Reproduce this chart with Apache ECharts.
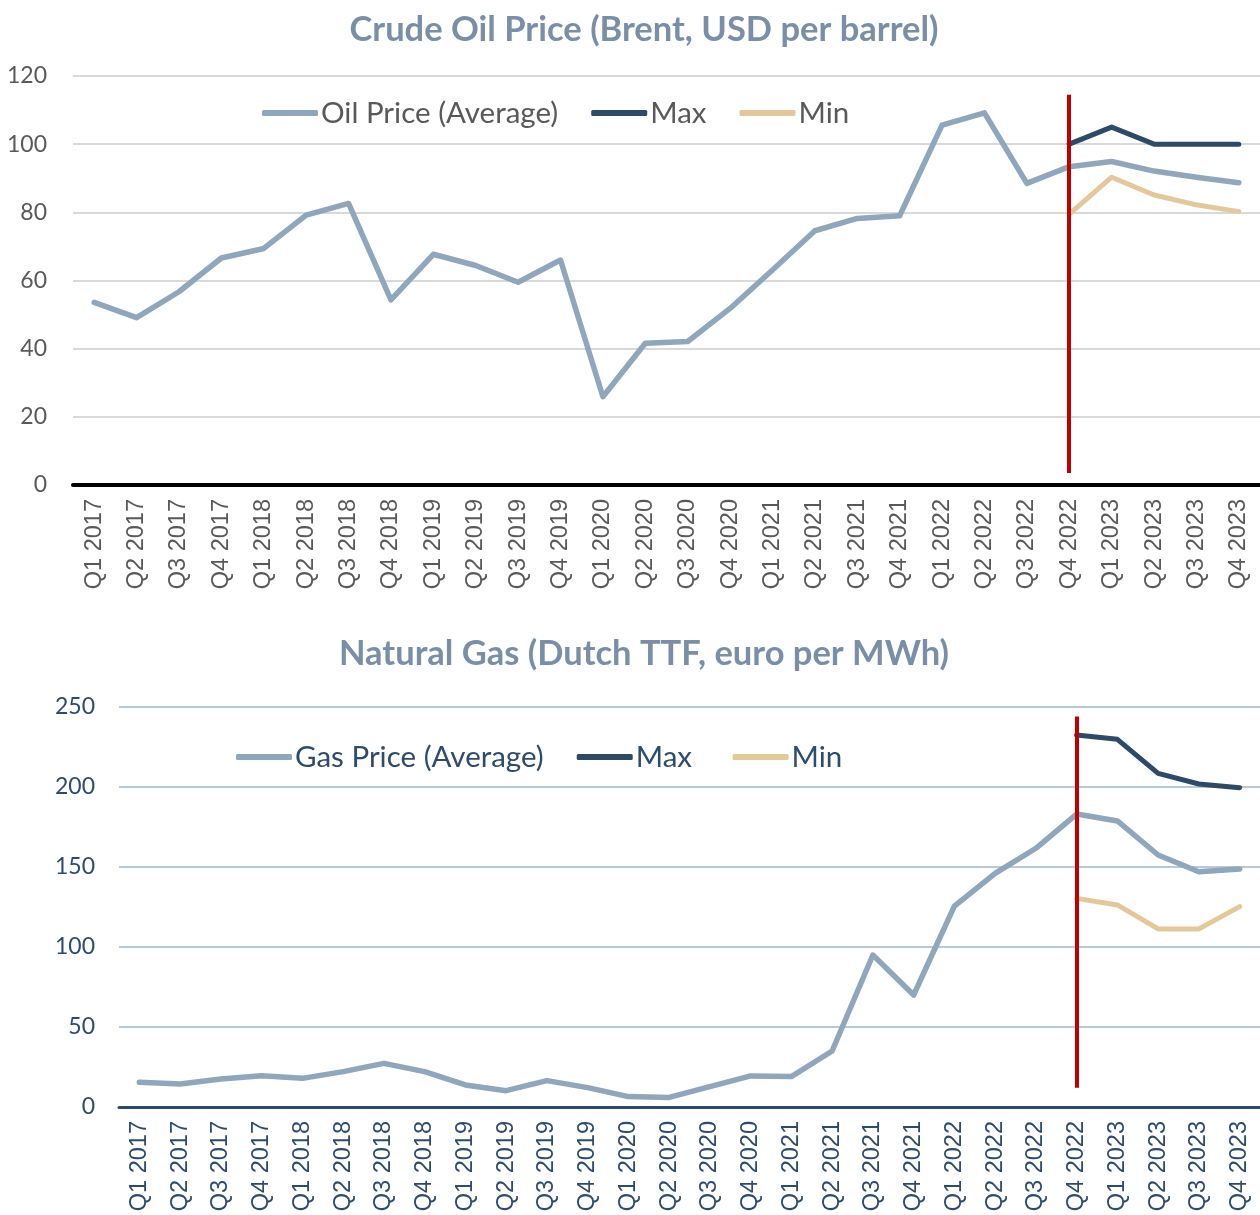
<!DOCTYPE html>
<html>
<head>
<meta charset="utf-8">
<script src="https://cdn.jsdelivr.net/npm/echarts@6/dist/echarts.min.js"></script>
<style>
html,body{margin:0;padding:0;background:#fff;}
#chart{width:1260px;height:1215px;}
</style>
</head>
<body>
<div id="chart"></div>
<script>
const quarters = ['Q1 2017','Q2 2017','Q3 2017','Q4 2017','Q1 2018','Q2 2018','Q3 2018','Q4 2018',
  'Q1 2019','Q2 2019','Q3 2019','Q4 2019','Q1 2020','Q2 2020','Q3 2020','Q4 2020',
  'Q1 2021','Q2 2021','Q3 2021','Q4 2021','Q1 2022','Q2 2022','Q3 2022','Q4 2022',
  'Q1 2023','Q2 2023','Q3 2023','Q4 2023'];

const oilAvg = [53.6,49.1,56.7,66.6,69.4,79.2,82.6,54.3,67.7,64.4,59.5,66.0,25.9,41.6,42.1,51.8,
  63.1,74.6,78.2,79.0,105.6,109.2,88.5,93.4,94.9,92.1,90.3,88.7];
const oilMax = [null,null,null,null,null,null,null,null,null,null,null,null,null,null,null,null,
  null,null,null,null,null,null,null,100,105,100,100,100];
const oilMin = [null,null,null,null,null,null,null,null,null,null,null,null,null,null,null,null,
  null,null,null,null,null,null,null,79.5,90.3,85.1,82.2,80.2];

const gasAvg = [15.4,14.4,17.5,19.6,17.9,22.1,27.3,22.1,13.8,10.2,16.5,12.1,6.5,6.0,12.7,19.4,
  19.0,35.0,95.0,70.0,125.6,146.0,161.7,183.1,178.8,157.5,147.0,148.8];
const gasMax = [null,null,null,null,null,null,null,null,null,null,null,null,null,null,null,null,
  null,null,null,null,null,null,null,232.5,229.8,208.5,201.9,199.6];
const gasMin = [null,null,null,null,null,null,null,null,null,null,null,null,null,null,null,null,
  null,null,null,null,null,null,null,130.4,126.3,111.3,111.3,125.2];

const oilTicks = {min:0, max:120, interval:20};
const gasTicks = {min:0, max:250, interval:50};

const forecastStart = 'Q4 2022';
const oilMarkerRange = [3.5, 114.5];
const gasMarkerRange = [12, 244];

const C_AVG = '#90a6bb', C_MAX = '#2e4a66', C_MIN = '#e3c89b', C_RED = '#c00000';
const C_TITLE = '#7a8fa5', C_GRAY = '#595959', C_NAVY = '#2f4b6b';
const FONT = 'Lato, "Open Sans", sans-serif';

function lineSeries(name, data, color, xi, width, extra) {
  return Object.assign({
    name: name, type: 'line', xAxisIndex: xi, yAxisIndex: xi, data: data,
    symbol: 'none', connectNulls: false,
    lineStyle: {color: color, width: width, cap: 'round', join: 'round'},
    itemStyle: {color: color}, animation: false
  }, extra || {});
}
function marker(range) {
  return {
    silent: true, symbol: ['none','none'], animation: false,
    lineStyle: {color: C_RED, width: 4, type: 'solid'},
    label: {show: false},
    data: [[{coord: [forecastStart, range[0]]}, {coord: [forecastStart, range[1]]}]]
  };
}

const chart = echarts.init(document.getElementById('chart'), null, {renderer: 'canvas'});
chart.setOption({
  backgroundColor: '#ffffff',
  animation: false,
  title: [
    {text: 'Crude Oil Price (Brent, USD per barrel)', left: 639, top: 7, textAlign: 'center',
     textStyle: {color: C_TITLE, fontSize: 34.5, fontWeight: 'bold', fontFamily: FONT}},
    {text: 'Natural Gas (Dutch TTF, euro per MWh)', left: 639, top: 631, textAlign: 'center',
     textStyle: {color: C_TITLE, fontSize: 34.5, fontWeight: 'bold', fontFamily: FONT}}
  ],
  legend: [
    {data: ['Oil Price (Average)','Max','Min'], left: 257, top: 93, itemWidth: 56, itemHeight: 6,
     itemGap: 33, icon: 'roundRect', textStyle: {color: C_GRAY, fontSize: 29.5, fontFamily: FONT, padding: [0,0,0,-2]}},
    {data: ['Gas Price (Average)','Max ','Min '], left: 231, top: 737, itemWidth: 56, itemHeight: 6,
     itemGap: 33, icon: 'roundRect', textStyle: {color: C_NAVY, fontSize: 29.5, fontFamily: FONT, padding: [0,0,0,-2]}}
  ],
  grid: [
    {left: 73, right: 0, top: 76, height: 409},
    {left: 119, right: 0, top: 707, height: 400}
  ],
  xAxis: [0,1].map(i => ({
    type: 'category', gridIndex: i, data: quarters, boundaryGap: true,
    axisLine: {show: true, lineStyle: {color: i === 0 ? '#000000' : C_MAX, width: i === 0 ? 4 : 3}},
    axisTick: {show: false},
    axisLabel: {rotate: 90, interval: 0, margin: 14, fontSize: 23.5,
      fontFamily: '"Liberation Sans", Arial, sans-serif', color: i === 0 ? C_GRAY : C_NAVY},
    splitLine: {show: false}
  })),
  yAxis: [
    {type: 'value', gridIndex: 0, min: oilTicks.min, max: oilTicks.max, interval: oilTicks.interval,
     axisLine: {show: false}, axisTick: {show: false},
     axisLabel: {fontSize: 23, fontFamily: FONT, color: C_GRAY, margin: 26},
     splitLine: {lineStyle: {color: '#d9d9d9', width: 2}}},
    {type: 'value', gridIndex: 1, min: gasTicks.min, max: gasTicks.max, interval: gasTicks.interval,
     axisLine: {show: false}, axisTick: {show: false},
     axisLabel: {fontSize: 23, fontFamily: FONT, color: C_NAVY, margin: 24},
     splitLine: {lineStyle: {color: '#b9c9d9', width: 2}}}
  ],
  series: [
    lineSeries('Oil Price (Average)', oilAvg, C_AVG, 0, 5.5, {markLine: marker(oilMarkerRange)}),
    lineSeries('Max', oilMax, C_MAX, 0, 5),
    lineSeries('Min', oilMin, C_MIN, 0, 5),
    lineSeries('Gas Price (Average)', gasAvg, C_AVG, 1, 5.5, {markLine: marker(gasMarkerRange)}),
    lineSeries('Max ', gasMax, C_MAX, 1, 5),
    lineSeries('Min ', gasMin, C_MIN, 1, 5)
  ]
});
</script>
</body>
</html>
